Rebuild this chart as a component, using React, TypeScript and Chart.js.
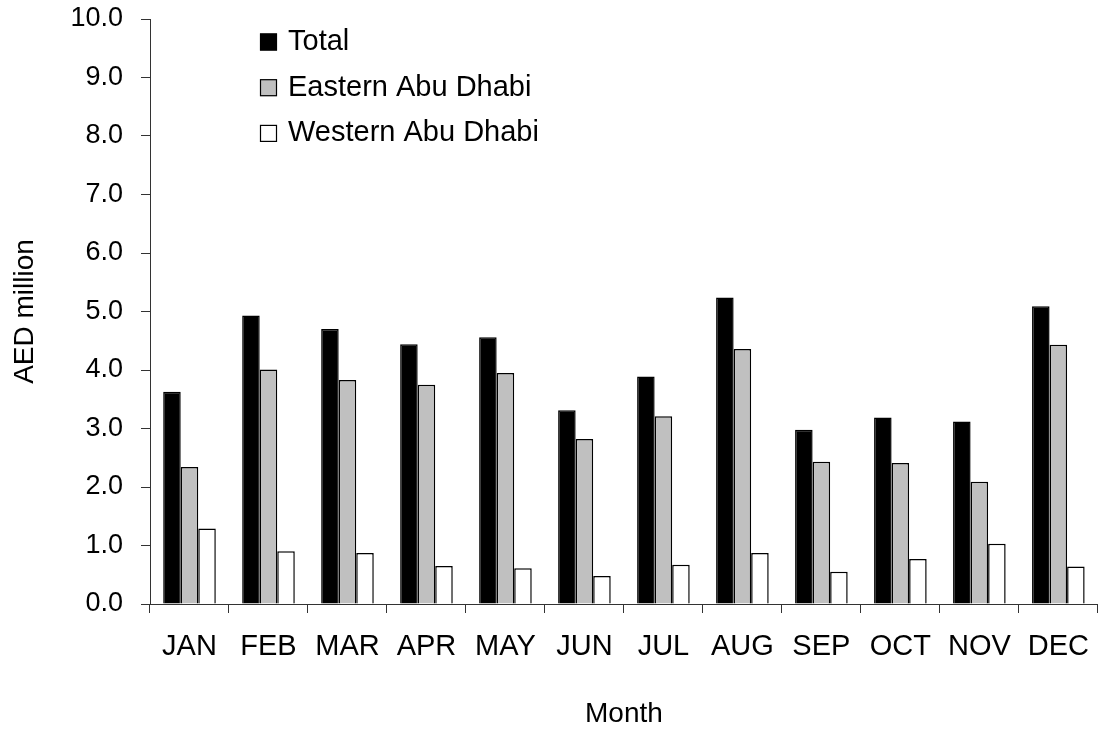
import React, { useEffect, useRef } from "react";
import { Chart, registerables } from "chart.js";

Chart.register(...registerables);

const FONT = '"Liberation Sans", Arial, Helvetica, sans-serif';

const months = ["JAN", "FEB", "MAR", "APR", "MAY", "JUN", "JUL", "AUG", "SEP", "OCT", "NOV", "DEC"];
const totalValues = [3.63, 4.93, 4.7, 4.44, 4.56, 3.31, 3.89, 5.24, 2.98, 3.19, 3.12, 5.09];
const easternValues = [2.34, 4.01, 3.83, 3.75, 3.95, 2.82, 3.21, 4.36, 2.43, 2.41, 2.09, 4.43];
const westernValues = [1.29, 0.9, 0.87, 0.65, 0.61, 0.48, 0.67, 0.87, 0.55, 0.77, 1.03, 0.64];
const seriesNames = ["Total", "Eastern Abu Dhabi", "Western Abu Dhabi"];
const yAxisTitle = "AED million";
const xAxisTitle = "Month";
const yMin = 0;
const yMax = 10;
const yStep = 1;

const legendPlugin = {
  id: "customLegend",
  afterDraw(chart: any) {
    const ctx = chart.ctx;
    ctx.save();
    ctx.font = `29px ${FONT}`;
    ctx.textBaseline = "middle";
    ctx.textAlign = "left";
    chart.data.datasets.forEach((ds: any, i: number) => {
      const cy = 42 + i * 45.7;
      ctx.fillStyle = ds.backgroundColor;
      ctx.fillRect(260, cy - 8.5, 17, 17);
      ctx.strokeStyle = "#000";
      ctx.lineWidth = 1.2;
      ctx.strokeRect(260.5, cy - 8, 16, 16);
      ctx.fillStyle = "#000";
      ctx.fillText(ds.label, 288, cy);
    });
    ctx.restore();
  },
};

export default function App() {
  const canvasRef = useRef<HTMLCanvasElement | null>(null);

  useEffect(() => {
    document.body.style.margin = "0";
    const canvas = canvasRef.current;
    if (!canvas) return;
    const chart = new Chart(canvas, {
      type: "bar",
      data: {
        labels: months,
        datasets: [
          {
            label: seriesNames[0],
            data: totalValues,
            backgroundColor: "#000000",
            borderColor: "#000000",
            borderWidth: 1.5,
          },
          {
            label: seriesNames[1],
            data: easternValues,
            backgroundColor: "#C0C0C0",
            borderColor: "#000000",
            borderWidth: 1.5,
          },
          {
            label: seriesNames[2],
            data: westernValues,
            backgroundColor: "#FFFFFF",
            borderColor: "#000000",
            borderWidth: 1.5,
          },
        ],
      },
      options: {
        responsive: false,
        animation: false,
        devicePixelRatio: 1,
        layout: { padding: { top: 0, right: 1, bottom: 0, left: 0 } },
        datasets: {
          bar: { barPercentage: 1.0, categoryPercentage: 0.666 },
        },
        plugins: {
          legend: { display: false },
          tooltip: { enabled: false },
          title: { display: false },
        },
        scales: {
          x: {
            offset: true,
            grid: {
              offset: true,
              drawOnChartArea: false,
              drawTicks: true,
              tickLength: 9,
              color: "#333",
              lineWidth: 1,
            },
            border: { display: true, color: "#333", width: 1 },
            ticks: {
              color: "#000",
              font: { family: FONT, size: 29 },
              padding: 17,
              maxRotation: 0,
              autoSkip: false,
            },
            title: {
              display: true,
              text: xAxisTitle,
              color: "#000",
              font: { family: FONT, size: 28, lineHeight: 1 },
              padding: { top: 0, bottom: 1 },
            },
            afterFit(scale: any) {
              scale.height = 729 - 604;
            },
          },
          y: {
            min: yMin,
            max: yMax,
            grid: {
              drawOnChartArea: false,
              drawTicks: true,
              tickLength: 9,
              color: "#333",
              lineWidth: 1,
            },
            border: { display: true, color: "#333", width: 1 },
            ticks: {
              stepSize: yStep,
              color: "#000",
              font: { family: FONT, size: 27 },
              padding: 18,
              callback: (v: any) => Number(v).toFixed(1),
            },
            title: {
              display: true,
              text: yAxisTitle,
              color: "#000",
              font: { family: FONT, size: 28, lineHeight: 1.2 },
              padding: { top: 8, bottom: 0 },
            },
            afterFit(scale: any) {
              scale.width = 150;
              scale.paddingTop = 19;
              scale.paddingBottom = 0;
            },
          },
        },
      },
      plugins: [legendPlugin],
    });
    return () => chart.destroy();
  }, []);

  return (
    <div
      style={{
        position: "fixed",
        top: 0,
        left: 0,
        width: 1103,
        height: 729,
        overflow: "hidden",
        background: "#fff",
      }}
    >
      <canvas ref={canvasRef} width={1106} height={729} style={{ display: "block" }} />
    </div>
  );
}
